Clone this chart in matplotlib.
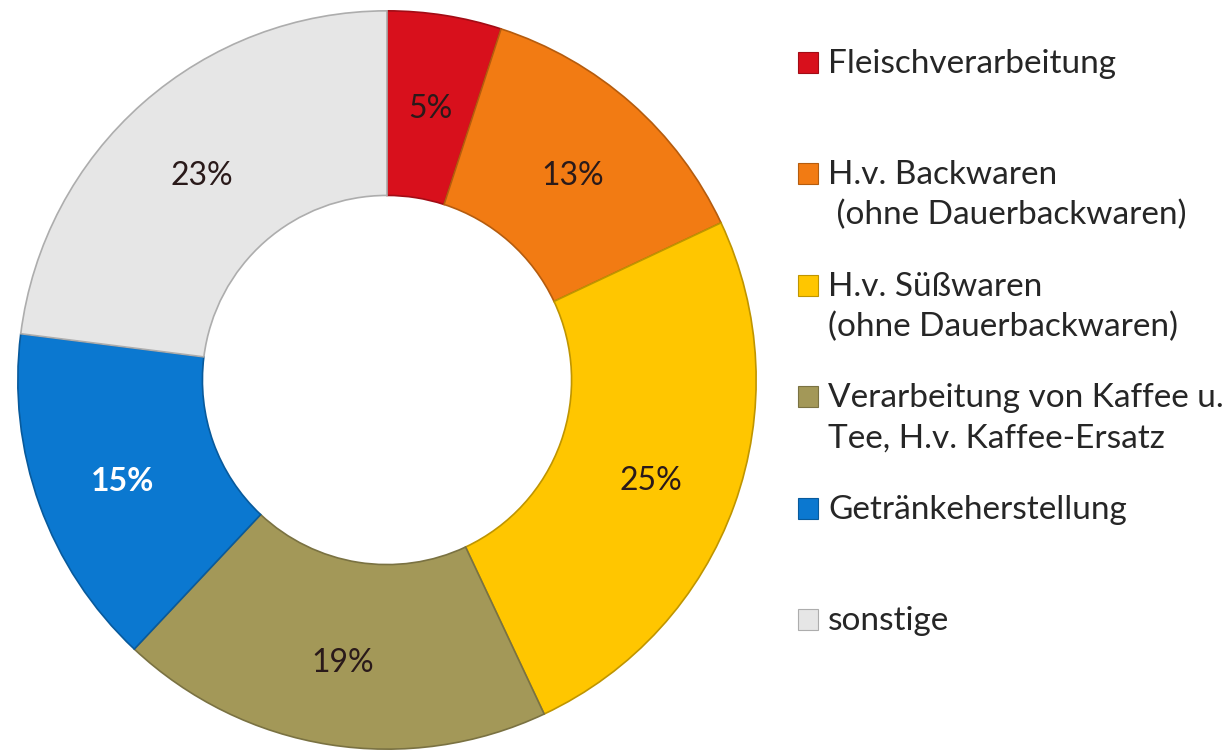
import numpy as np
import matplotlib
matplotlib.use('Agg')
from matplotlib import pyplot as plt
from matplotlib.patches import Rectangle

plt.rcParams['font.family'] = ['Lato', 'DejaVu Sans']

# Daten
labels = ['Fleischverarbeitung',
          'H.v. Backwaren\n (ohne Dauerbackwaren)',
          'H.v. Süßwaren\n(ohne Dauerbackwaren)',
          'Verarbeitung von Kaffee u.\nTee, H.v. Kaffee-Ersatz',
          'Getränkeherstellung',
          'sonstige']
values = [5, 13, 25, 19, 15, 23]
colors = ['#d8101c', '#f27b13', '#ffc600', '#a39858', '#0b78d0', '#e6e6e6']
text_colors = ['#2a1a1a', '#2a1a1a', '#2a1a1a', '#2a1a1a', 'white', '#2a1a1a']

W, H = 1226, 755
fig = plt.figure(figsize=(W / 100, H / 100), dpi=100)

# Ring: Mittelpunkt (387, 380) px, Radius 371 px
cx, cy, r = 387, 380, 371
ax = fig.add_axes([(cx - r) / W, (H - cy - r) / H, 2 * r / W, 2 * r / H])

def darker(c, f=0.7):
    rgb = np.array(matplotlib.colors.to_rgb(c))
    return tuple(rgb * f)

wedges, texts, autotexts = ax.pie(
    values, colors=colors, startangle=90, counterclock=False, radius=1,
    autopct='%d%%', pctdistance=0.76,
    wedgeprops=dict(width=0.5, linewidth=1.2),
    textprops=dict(fontsize=23))
for w, c in zip(wedges, colors):
    w.set_edgecolor(darker(c, 0.75))
for t, tc in zip(autotexts, text_colors):
    t.set_color(tc)
    x, y = t.get_position()
    t.set_position((x, y - 6 / r))  # Excel setzt die Beschriftung etwas tiefer
autotexts[4].set_fontweight('bold')

ax.set_xlim(-1.005, 1.005)
ax.set_ylim(-1.005, 1.005)
ax.set_aspect('equal')
ax.axis('off')

# Legende (manuell, wie in Excel: Kästchen an der ersten Zeile)
y0, dy, line_h = 73, 111.4, 40
for i, (lab, c) in enumerate(zip(labels, colors)):
    base = y0 + dy * i
    fig.patches.append(Rectangle((798 / W, (H - base) / H), 20 / W, 21 / H,
                                 transform=fig.transFigure, facecolor=c,
                                 edgecolor=darker(c, 0.75), linewidth=0.8))
    for k, line in enumerate(lab.split('\n')):
        fig.text(828 / W, (H - base - k * line_h) / H, line, fontsize=24,
                 color='#262626', ha='left', va='baseline',
                 transform=fig.transFigure)

fig.savefig('out.png', dpi=100)
